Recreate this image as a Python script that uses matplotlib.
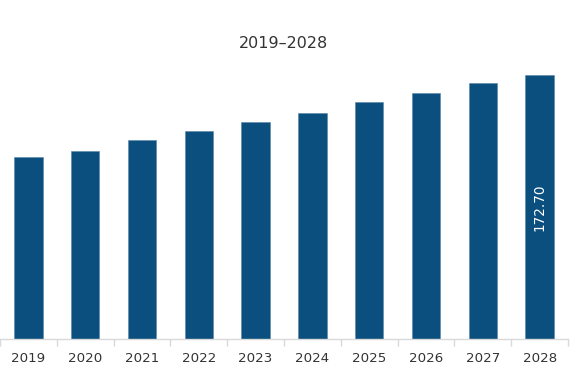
import matplotlib
matplotlib.use("Agg")
import matplotlib.pyplot as plt
import numpy as np

years = ["2019", "2020", "2021", "2022", "2023", "2024", "2025", "2026", "2027", "2028"]
values = [119.3, 122.8, 130.2, 135.9, 141.8, 148.1, 154.9, 161.1, 167.3, 172.70]
title = "2019–2028"
label_text = "172.70"

fig = plt.figure(figsize=(5.75, 3.86), dpi=100)
ax = fig.add_axes([0.0, 46.7 / 386, 568 / 575, (339.3 - 60) / 386])

x = np.arange(len(years))
ax.bar(x, values, width=0.5, color="#0b4f7f", edgecolor="#5a86a8", linewidth=0.4)

ax.set_xlim(-0.5, len(years) - 0.5)
ax.set_ylim(0, 182.5)

for s in ["left", "right", "top"]:
    ax.spines[s].set_visible(False)
ax.spines["bottom"].set_color("#d9d9d9")
ax.spines["bottom"].set_linewidth(1.0)

ax.set_yticks([])
ax.set_xticks(x)
ax.set_xticklabels(years, fontsize=9.6, color="#333333")
ax.tick_params(axis="x", which="major", length=0, pad=9.5)
ax.set_xticks(np.arange(-0.5, len(years) + 0.5, 1.0), minor=True)
ax.tick_params(axis="x", which="minor", length=5, color="#d9d9d9", width=1)

ax.text(x[-1], values[-1] / 2, label_text, rotation=90, color="white",
        ha="center", va="center", fontsize=9.8)

fig.text(283 / 575, 1 - 44 / 386, title, ha="center", va="center",
         fontsize=11.5, color="#333333")

fig.savefig("out.png", dpi=100)
